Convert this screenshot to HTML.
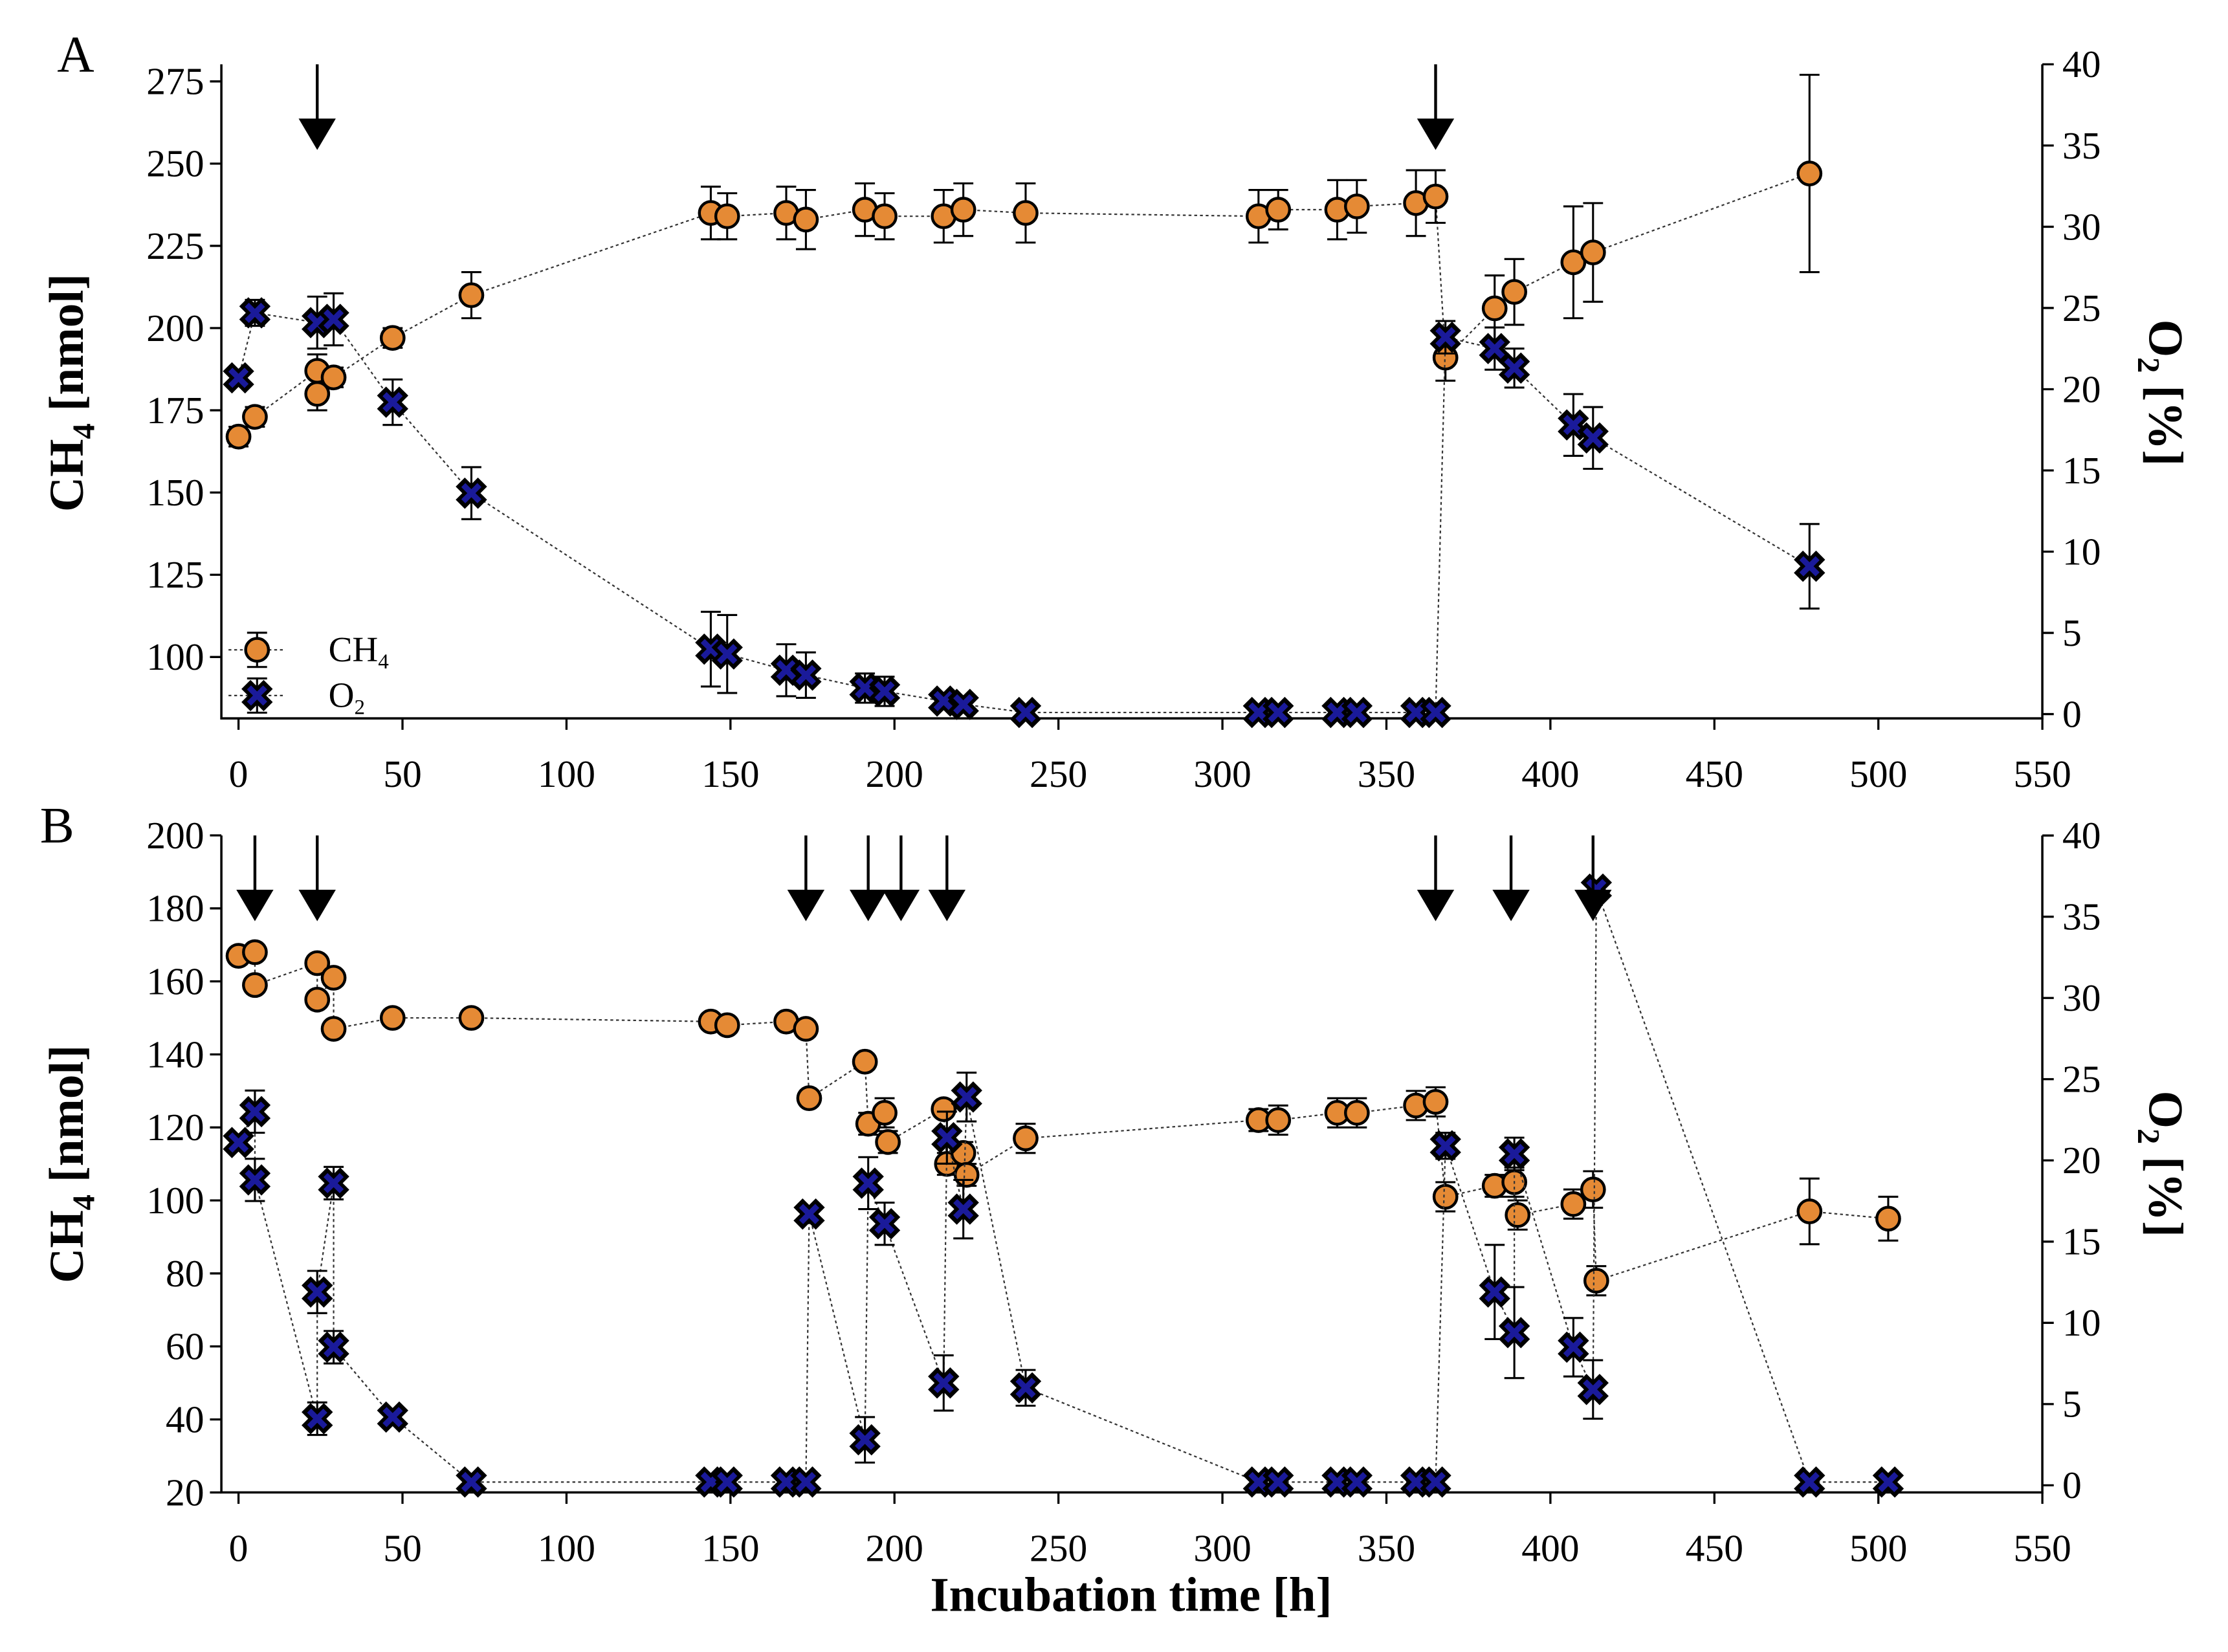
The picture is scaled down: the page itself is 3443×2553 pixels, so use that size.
<!DOCTYPE html>
<html><head><meta charset="utf-8"><style>
html,body{margin:0;padding:0;background:#fff}
svg{display:block}
text{font-family:"Liberation Serif",serif;fill:#000}
</style></head><body>
<svg id="chart" width="3443" height="2553" viewBox="0 0 1560 1156.7" xmlns="http://www.w3.org/2000/svg"></svg>
<script>
// ---- Data ----
const xTicks = [0,50,100,150,200,250,300,350,400,450,500,550];
const aLeftTicks = [100,125,150,175,200,225,250,275];
const bLeftTicks = [20,40,60,80,100,120,140,160,180,200];
const rightTicks = [0,5,10,15,20,25,30,35,40];

const aCH4Time = [0,5,24,24,29,47,71,144,149,167,173,191,197,215,221,240,311,317,335,341,359,365,368,383,389,407,413,479];
const aCH4Val  = [167,173,187,180,185,197,210,235,234,235,233,236,234,234,236,235,234,236,236,237,238,240,191,206,211,220,223,247];
const aCH4Err  = [3,3,5,5,3,3,7,8,7,8,9,8,7,8,8,9,8,6,9,8,10,8,7,10,10,17,15,30];
const aO2Time = [0,5,24,29,47,71,144,149,167,173,191,197,215,221,240,311,317,335,341,359,365,368,383,389,407,413,479];
const aO2Val  = [20.7,24.7,24.1,24.3,19.2,13.6,4.0,3.7,2.7,2.4,1.6,1.4,0.8,0.6,0.1,0.1,0.1,0.1,0.1,0.1,0.1,23.2,22.5,21.3,17.8,17.0,9.1];
const aO2Err  = [0,0.8,1.6,1.6,1.4,1.6,2.3,2.4,1.6,1.4,0.9,0.9,0.5,0.5,0.2,0.2,0.2,0.2,0.2,0.2,0.2,1.0,1.3,1.2,1.9,1.9,2.6];
const aArrows = [24,365];

const bCH4Time = [0,5,5,24,24,29,29,47,71,144,149,167,173,174,191,192,197,198,215,216,221,222,240,311,317,335,341,359,365,368,383,389,390,407,413,414,479,503];
const bCH4Val  = [167,168,159,165,155,161,147,150,150,149,148,149,147,128,138,121,124,116,125,110,113,107,117,122,122,124,124,126,127,101,104,105,96,99,103,78,97,95];
const bCH4Err  = [2,2,2,2,2,2,2,2,2,2,2,2,2,2,2,3,4,3,2,3,3,3,4,3,4,4,4,4,4,4,3,4,4,4,5,4,9,6];
const bO2Time = [0,5,5,24,24,29,29,47,71,144,149,167,173,174,191,192,197,215,216,221,222,240,311,317,335,341,359,365,368,383,389,389,407,413,414,479,503];
const bO2Val  = [21.1,23.0,18.8,4.1,11.9,18.6,8.5,4.2,0.2,0.2,0.2,0.2,0.2,16.7,2.8,18.6,16.1,6.3,21.4,17.0,23.9,6.0,0.2,0.2,0.2,0.2,0.2,0.2,20.9,11.9,9.4,20.4,8.5,5.9,36.7,0.2,0.2];
const bO2Err  = [0.5,1.3,1.3,1.0,1.3,1.0,1.0,0.5,0.3,0.3,0.3,0.3,0.3,0.5,1.4,1.6,1.3,1.7,1.6,1.8,1.5,1.1,0.3,0.3,0.3,0.3,0.3,0.3,0.8,2.9,2.8,1.0,1.8,1.8,0.5,0.3,0.3];
const bArrows = [5,24,173,192,202,216,365,388,413];

// ---- Drawing ----
const NS = "http://www.w3.org/2000/svg";
const svg = document.getElementById('chart');
function mk(tag, attrs, parent){ const e=document.createElementNS(NS,tag); for(const k in attrs) e.setAttribute(k,attrs[k]); (parent||svg).appendChild(e); return e; }
const X0=155, X1=1430;
const xs = v => 167 + v*2.2964;

function panel(cfg){
  const g = mk('g',{});
  
  
  const yL = v => cfg.lBase - (v-cfg.lMin)*cfg.lScale;
  const yR = v => cfg.rBase - v*cfg.rScale;
  const ax = mk('path',{d:`M${X0},${cfg.top} V${cfg.bottom} H${X1} V${cfg.top}`,fill:'none',stroke:'#000','stroke-width':1.6},g);
   
  xTicks.forEach(t=>{
    const x=xs(t);
    mk('line',{x1:x,x2:x,y1:cfg.bottom,y2:cfg.bottom+8,stroke:'#000','stroke-width':1.5},g);
    const tx=mk('text',{x:x,y:cfg.bottom+48,'text-anchor':'middle','font-size':27},g); tx.textContent=t;
     
  });
  cfg.lTicks.forEach(t=>{
    const y=yL(t);
    mk('line',{x1:X0-8,x2:X0,y1:y,y2:y,stroke:'#000','stroke-width':1.5},g);
    const tx=mk('text',{x:X0-12,y:y+9,'text-anchor':'end','font-size':27},g); tx.textContent=t;
     
  });
  rightTicks.forEach(t=>{
    const y=yR(t);
    mk('line',{x1:X1,x2:X1+8,y1:y,y2:y,stroke:'#000','stroke-width':1.5},g);
    const tx=mk('text',{x:X1+14,y:y+9,'text-anchor':'start','font-size':27},g); tx.textContent=t;
     
  });
  const lt=mk('text',{transform:`translate(58,${cfg.mid}) rotate(-90)`,'text-anchor':'middle','font-size':34,'font-weight':'bold'},g);
  lt.innerHTML='CH<tspan font-size="22" dy="8">4</tspan><tspan dy="-8"> [nmol]</tspan>';
   
  const rt=mk('text',{transform:`translate(1505,${cfg.mid}) rotate(90)`,'text-anchor':'middle','font-size':34,'font-weight':'bold'},g);
  rt.innerHTML='O<tspan font-size="22" dy="8">2</tspan><tspan dy="-8"> [%]</tspan>';
   
  const pl=mk('text',{x:cfg.letterX,y:cfg.top+5,'font-size':36},g); pl.textContent=cfg.letter;
   
  function series(T,V,E,yf,kind){
    const pts=T.map((t,i)=>`${xs(t)},${yf(V[i])}`).join(' ');
    const ln=mk('polyline',{points:pts,fill:'none',stroke:'#333','stroke-width':1,'stroke-dasharray':'2,2'},g);
     
    T.forEach((t,i)=>{
      const x=xs(t), y1=yf(V[i]+E[i]), y2=yf(V[i]-E[i]);
      if(E[i]>0){
        const eb=mk('path',{d:`M${x},${y1}V${y2}M${x-7},${y1}H${x+7}M${x-7},${y2}H${x+7}`,stroke:'#000','stroke-width':1.4,fill:'none'},g);
         
      }
    });
    T.forEach((t,i)=>{
      const x=xs(t), y=yf(V[i]);
      let m;
      if(kind==='ch4'){
        m=mk('circle',{cx:x,cy:y,r:8,fill:'#e58a35',stroke:'#000','stroke-width':2},g);
      } else {
        m=mk('g',{transform:`translate(${x},${y}) rotate(45)`},g);
        mk('rect',{x:-11,y:-4.5,width:22,height:9,fill:'#000'},m);
        mk('rect',{x:-4.5,y:-11,width:9,height:22,fill:'#000'},m);
        mk('rect',{x:-8,y:-2,width:16,height:4,fill:'#1a1a9a'},m);
        mk('rect',{x:-2,y:-8,width:4,height:16,fill:'#1a1a9a'},m);
      }
       
    });
  }
  series(cfg.ch4T,cfg.ch4V,cfg.ch4E,yL,'ch4');
  series(cfg.o2T,cfg.o2V,cfg.o2E,yR,'o2');
  cfg.arrows.forEach(t=>{
    const x=xs(t);
    const a=mk('path',{d:`M${x},${cfg.top}V${cfg.top+44}`,stroke:'#000','stroke-width':2},g);
     
    mk('path',{d:`M${x-13},${cfg.top+38}L${x+13},${cfg.top+38}L${x},${cfg.top+60}Z`,fill:'#000'},g);
  });
}

panel({name:'panel-a',letter:'A',letterX:40,top:45,bottom:503,mid:275,
  lBase:460,lMin:100,lScale:2.303,lTicks:aLeftTicks,rBase:500,rScale:11.375,
  ch4T:aCH4Time,ch4V:aCH4Val,ch4E:aCH4Err,o2T:aO2Time,o2V:aO2Val,o2E:aO2Err,arrows:aArrows});
panel({name:'panel-b',letter:'B',letterX:28,top:585,bottom:1045,mid:815,
  lBase:1045,lMin:20,lScale:2.556,lTicks:bLeftTicks,rBase:1040,rScale:11.375,
  ch4T:bCH4Time,ch4V:bCH4Val,ch4E:bCH4Err,o2T:bO2Time,o2V:bO2Val,o2E:bO2Err,arrows:bArrows});

const lg=mk('g',{});
 
mk('line',{x1:160,x2:200,y1:455,y2:455,stroke:'#333','stroke-dasharray':'2,2'},lg);
mk('path',{d:'M180,443V467M173,443H187M173,467H187',stroke:'#000','stroke-width':1.4},lg);
mk('circle',{cx:180,cy:455,r:8,fill:'#e58a35',stroke:'#000','stroke-width':2},lg);
const l1=mk('text',{x:230,y:463,'font-size':25},lg); l1.innerHTML='CH<tspan font-size="15" dy="5">4</tspan>';
 
mk('line',{x1:160,x2:200,y1:487,y2:487,stroke:'#333','stroke-dasharray':'2,2'},lg);
mk('path',{d:'M180,475V499M173,475H187M173,499H187',stroke:'#000','stroke-width':1.4},lg);
const lm=mk('g',{transform:'translate(180,487) rotate(45)'},lg);
mk('rect',{x:-11,y:-4.5,width:22,height:9,fill:'#000'},lm);
mk('rect',{x:-4.5,y:-11,width:9,height:22,fill:'#000'},lm);
mk('rect',{x:-8,y:-2,width:16,height:4,fill:'#1a1a9a'},lm);
mk('rect',{x:-2,y:-8,width:4,height:16,fill:'#1a1a9a'},lm);
const l2=mk('text',{x:230,y:495,'font-size':25},lg); l2.innerHTML='O<tspan font-size="15" dy="5">2</tspan>';
 

const xt=mk('text',{x:792,y:1128,'text-anchor':'middle','font-size':34,'font-weight':'bold'});
xt.textContent='Incubation time [h]';
 
</script>
</body></html>
